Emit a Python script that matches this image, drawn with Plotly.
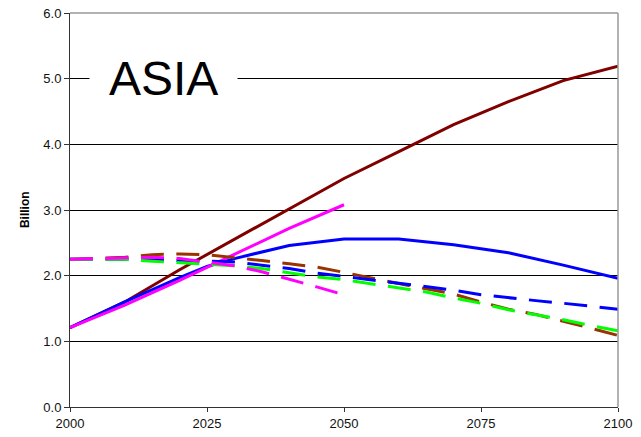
import plotly.graph_objects as go

# Years for each projection series
years_solid = [2000, 2010, 2020, 2025, 2030, 2040, 2050, 2060, 2070, 2080, 2090, 2100]
years_dashed = [2000, 2005, 2010, 2015, 2020, 2025, 2030, 2035, 2040, 2045, 2050,
                2055, 2060, 2065, 2070, 2075, 2080, 2085, 2090, 2095, 2100]
years_short_solid = [2000, 2010, 2020, 2025, 2030, 2040, 2050]
years_short_dashed = [2000, 2005, 2010, 2015, 2020, 2025, 2030, 2035, 2040, 2045, 2050]

# Population (billion)
high_solid = [1.21, 1.60, 2.09, 2.32, 2.55, 3.02, 3.48, 3.89, 4.30, 4.65, 4.97, 5.19]
mid_solid = [1.21, 1.60, 1.97, 2.14, 2.26, 2.46, 2.56, 2.56, 2.47, 2.35, 2.16, 1.96]
short_solid = [1.21, 1.55, 1.93, 2.13, 2.33, 2.72, 3.08]

brown_dashed = [2.25, 2.26, 2.28, 2.32, 2.33, 2.32, 2.28, 2.23, 2.18, 2.13, 2.05,
                1.96, 1.88, 1.80, 1.72, 1.60, 1.49, 1.41, 1.31, 1.20, 1.09]
blue_dashed = [2.25, 2.25, 2.25, 2.25, 2.23, 2.22, 2.21, 2.16, 2.11, 2.04, 1.99,
               1.93, 1.88, 1.83, 1.78, 1.71, 1.66, 1.62, 1.58, 1.53, 1.49]
green_dashed = [2.25, 2.25, 2.25, 2.22, 2.20, 2.18, 2.15, 2.11, 2.05, 1.98, 1.94,
                1.88, 1.81, 1.75, 1.66, 1.58, 1.48, 1.41, 1.33, 1.24, 1.16]
magenta_dashed = [2.25, 2.26, 2.28, 2.28, 2.26, 2.21, 2.15, 2.06, 1.95, 1.83, 1.71]

x_ticks = [2000, 2025, 2050, 2075, 2100]
y_ticks = [0, 1, 2, 3, 4, 5, 6]
y_tick_text = ["0.0", "1.0", "2.0", "3.0", "4.0", "5.0", "6.0"]

FONT = "Arial, Liberation Sans, sans-serif"
DASH = "23px,12.5px"

fig = go.Figure()

fig.add_trace(go.Scatter(x=years_solid, y=high_solid, mode="lines",
                         line=dict(color="#800000", width=3)))
fig.add_trace(go.Scatter(x=years_solid, y=mid_solid, mode="lines",
                         line=dict(color="#0000FF", width=3)))
fig.add_trace(go.Scatter(x=years_short_solid, y=short_solid, mode="lines",
                         line=dict(color="#FF00FF", width=3)))
fig.add_trace(go.Scatter(x=years_dashed, y=brown_dashed, mode="lines",
                         line=dict(color="#993300", width=3, dash=DASH)))
fig.add_trace(go.Scatter(x=years_dashed, y=blue_dashed, mode="lines",
                         line=dict(color="#0000FF", width=3, dash=DASH)))
fig.add_trace(go.Scatter(x=years_dashed, y=green_dashed, mode="lines",
                         line=dict(color="#00FF00", width=3, dash=DASH)))
fig.add_trace(go.Scatter(x=years_short_dashed, y=magenta_dashed, mode="lines",
                         line=dict(color="#FF00FF", width=3, dash=DASH)))

fig.update_layout(
    width=641, height=437,
    margin=dict(l=70, r=23, t=13, b=30, pad=0),
    paper_bgcolor="white", plot_bgcolor="white",
    showlegend=False,
    font=dict(family=FONT, size=13, color="#111111"),
    xaxis=dict(range=[2000, 2100], tickvals=x_ticks, showgrid=False, automargin=False,
               zeroline=False, showline=True, linecolor="#333333", linewidth=1,
               ticks="outside", ticklen=4, tickcolor="#333333",
               tickfont=dict(size=13)),
    yaxis=dict(range=[0, 6], tickvals=y_ticks, ticktext=y_tick_text, automargin=False,
               showgrid=True, gridcolor="#000000", gridwidth=1,
               zeroline=False, showline=True, linecolor="#333333", linewidth=1,
               ticks="outside", ticklen=5, tickcolor="#333333",
               tickfont=dict(size=13)),
    shapes=[
        dict(type="line", xref="x domain", yref="y domain", x0=0, x1=1, y0=1, y1=1,
             line=dict(color="#999999", width=1.5), layer="above"),
        dict(type="line", xref="x domain", yref="y domain", x0=1, x1=1, y0=0, y1=1,
             line=dict(color="#999999", width=1.5), layer="above"),
    ],
    annotations=[
        dict(text="ASIA", x=2017.1, y=5.0, xref="x", yref="y",
             xanchor="center", yanchor="middle", showarrow=False,
             font=dict(family=FONT, size=48, color="#000000"),
             bgcolor="white", borderpad=19),
        dict(text="<b>Billion</b>", x=-0.082, y=0.5, xref="paper", yref="paper",
             xanchor="center", yanchor="middle", showarrow=False, textangle=-90,
             font=dict(family=FONT, size=12, color="#000000")),
    ],
)

fig.write_html("out.html")
